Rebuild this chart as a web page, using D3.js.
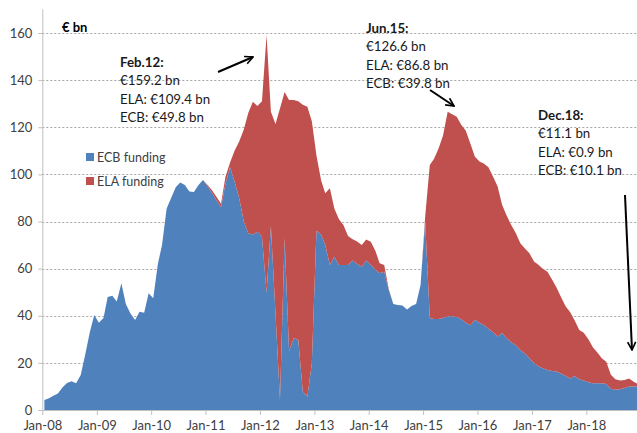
<!DOCTYPE html>
<html>
<head>
<meta charset="utf-8">
<script src="https://cdn.jsdelivr.net/npm/d3@7"></script>
<style>
  body { margin: 0; background: #fff; }
  svg { display: block; font-family: Lato, "Open Sans", sans-serif; }
</style>
</head>
<body>
<svg id="chart" width="637" height="433"></svg>
<script>
// monthly data, Jan-08 .. Dec-18 (EUR bn)
const ecbFunding = [
  4.2, 5, 6, 7, 9.5, 11.5, 12.2, 11.3, 14.9, 23.5, 33, 40.3,
  37, 39, 48, 48.5, 46, 53.8, 45, 41, 38.2, 41.7, 41.3, 49.5,
  47.4, 62, 70, 85.5, 90, 94.5, 96.5, 95.5, 92.7, 92.5, 95.5, 97.6,
  95, 92, 89, 86, 96, 103, 97, 90, 80, 75, 74.5, 75.7,
  73.6, 49.8, 78.1, 41, 4.2, 73, 25, 30.4, 29.7, 8, 5.7, 19.8,
  76.1, 74.5, 70, 61.5, 65, 61.5, 61.5, 61.5, 63.5, 62, 60.8, 63.4,
  61.5, 59.5, 58, 58.7, 51, 45, 44.6, 44.3, 42.7, 44.1, 45, 53,
  80, 39, 38.6, 38.6, 39, 39.8, 39.8, 39.5, 38.5, 37, 36, 38.3,
  37, 36, 34.5, 33, 31.2, 32.7, 30.5, 28.8, 27.5, 25.5, 24, 22,
  20, 18.5, 17.7, 17, 16.6, 16.3, 15.5, 14.5, 13.4, 14.4, 13, 12.5,
  11.8, 11.4, 11.3, 11.3, 11, 9, 8.6, 8.8, 9.3, 10, 10, 10.1
];
const elaFunding = [
  0, 0, 0, 0, 0, 0, 0, 0, 0, 0, 0, 0,
  0, 0, 0, 0, 0, 0, 0, 0, 0, 0, 0, 0,
  0, 0, 0, 0, 0, 0, 0, 0, 0, 0, 0, 0,
  0.5, 1.2, 1.5, 1.5, 3, 2, 13, 24, 39, 51, 56.3, 53.3,
  57.4, 109.4, 48.5, 80.4, 123.8, 62, 106.6, 101.2, 101.3, 121.5, 123, 102.7,
  31.9, 23, 22, 32.6, 20.5, 19.5, 17, 12.3, 9, 9.5, 9.2, 9,
  9.9, 8, 4.3, 2.8, 0.5, 0, 0, 0, 0, 0, 0, 0,
  2, 65, 67.9, 72.4, 77.5, 86.8, 85.7, 85, 82.5, 81.5, 77, 69.2,
  68.5, 68.5, 68.5, 66, 63.8, 54.3, 52, 49.7, 47.5, 45.3, 44.5, 44.5,
  43, 43, 42.3, 41.7, 38.9, 35.7, 32.5, 29.5, 28.1, 23.6, 21, 20.3,
  18.2, 15.1, 13.2, 10.7, 9.5, 6, 4.4, 3.7, 3.4, 3.4, 2, 0.9
];
const seriesNames = ["ECB funding", "ELA funding"];
const seriesColors = ["#4F81BD", "#C0504D"];
const tickLabels = ["Jan-08", "Jan-09", "Jan-10", "Jan-11", "Jan-12", "Jan-13",
                    "Jan-14", "Jan-15", "Jan-16", "Jan-17", "Jan-18"];
const yTicks = [0, 20, 40, 60, 80, 100, 120, 140, 160];
const notes = [
  { head: "Feb.12:", lines: ["€159.2 bn", "ELA: €109.4 bn", "ECB: €49.8 bn"] },
  { head: "Jun.15:", lines: ["€126.6 bn", "ELA: €86.8 bn", "ECB: €39.8 bn"] },
  { head: "Dec.18:", lines: ["€11.1 bn", "ELA: €0.9 bn", "ECB: €10.1 bn"] }
];

const months = d3.timeMonth.range(new Date(2008, 0, 1), new Date(2019, 0, 1));
const data = months.map((m, i) => ({
  date: new Date(m.getFullYear(), m.getMonth(), 15),
  ecb: ecbFunding[i],
  ela: elaFunding[i]
}));

const svg = d3.select("#chart");
const W = 637, H = 433;
const left = 42.3, bottom = 410;

const x = d3.scaleTime()
  .domain([new Date(2008, 0, 1), new Date(2018, 0, 1)])
  .range([left, 586.3]);
const y = d3.scaleLinear().domain([0, 160]).range([bottom, 33]);

// gridlines
svg.append("g").selectAll("line")
  .data(yTicks.slice(1))
  .join("line")
  .attr("x1", left).attr("x2", W)
  .attr("y1", d => Math.round(y(d)) + 0.5).attr("y2", d => Math.round(y(d)) + 0.5)
  .attr("stroke", "#a6a6a6")
  .attr("stroke-dasharray", "2,2");

// stacked areas
const stack = d3.stack().keys(["ecb", "ela"]);
const layers = stack(data);
const area = d3.area()
  .x(d => x(d.data.date))
  .y0(d => y(d[0]))
  .y1(d => y(d[1]));

svg.append("g").selectAll("path")
  .data(layers)
  .join("path")
  .attr("d", area)
  .attr("fill", (d, i) => seriesColors[i]);

// y axis
const yAxis = svg.append("g")
  .attr("transform", `translate(${left},0)`)
  .call(d3.axisLeft(y).tickValues(yTicks).tickSize(4).tickPadding(6).tickSizeOuter(0));
yAxis.select(".domain").attr("d", `M0.5,${y(170)}V${bottom}`).attr("stroke", "#bfbfbf");
yAxis.selectAll(".tick line").attr("stroke", "#bfbfbf");
yAxis.selectAll("text").attr("font-size", 13).attr("fill", "#404040")
  .attr("font-family", "Lato, sans-serif");

// x axis
const yearTicks = tickLabels.map((t, i) => new Date(2008 + i, 0, 1));
const xAxis = svg.append("g")
  .attr("transform", `translate(0,${bottom})`)
  .call(d3.axisBottom(x).tickValues(yearTicks)
    .tickFormat((d, i) => tickLabels[i]).tickSize(5).tickPadding(6).tickSizeOuter(0));
xAxis.select(".domain").attr("d", `M${left},0.5H${W}`).attr("stroke", "#bfbfbf");
xAxis.selectAll(".tick line").attr("stroke", "#bfbfbf");
xAxis.selectAll("text").attr("font-size", 13).attr("fill", "#404040")
  .attr("font-family", "Lato, sans-serif");

// unit label
svg.append("text").attr("x", 62).attr("y", 32)
  .attr("font-size", 13).attr("font-weight", "bold").attr("fill", "#000")
  .text("€ bn");

// legend
const legend = svg.append("g").selectAll("g")
  .data(seriesNames)
  .join("g")
  .attr("transform", (d, i) => `translate(86,${153 + i * 24})`);
legend.append("rect").attr("width", 8).attr("height", 8)
  .attr("fill", (d, i) => seriesColors[i]);
legend.append("text").attr("x", 11).attr("y", 9)
  .attr("font-size", 12.5).attr("fill", "#404040")
  .text(d => d);

// annotations
const notePos = [[120, 67], [366, 33], [538, 120]];
notes.forEach((n, k) => {
  const t = svg.append("text")
    .attr("x", notePos[k][0]).attr("y", notePos[k][1])
    .attr("font-size", 13.3).attr("fill", "#1a1a1a");
  t.append("tspan").attr("x", notePos[k][0]).attr("font-weight", "bold").text(n.head);
  n.lines.forEach(l => {
    t.append("tspan").attr("x", notePos[k][0]).attr("dy", 18.3).text(l);
  });
});

// arrows
svg.append("defs").append("marker")
  .attr("id", "head")
  .attr("viewBox", "0 0 10 10")
  .attr("refX", 9).attr("refY", 5)
  .attr("markerWidth", 5).attr("markerHeight", 5)
  .attr("orient", "auto")
  .append("path")
  .attr("d", "M1,1L9,5L1,9")
  .attr("fill", "none").attr("stroke", "#000").attr("stroke-width", 1.6);

const arrows = [[218, 72, 253, 57], [430, 90, 454, 106], [625, 195, 632, 350]];
svg.append("g").selectAll("line")
  .data(arrows)
  .join("line")
  .attr("x1", d => d[0]).attr("y1", d => d[1])
  .attr("x2", d => d[2]).attr("y2", d => d[3])
  .attr("stroke", "#000").attr("stroke-width", 2)
  .attr("marker-end", "url(#head)");
</script>
</body>
</html>
